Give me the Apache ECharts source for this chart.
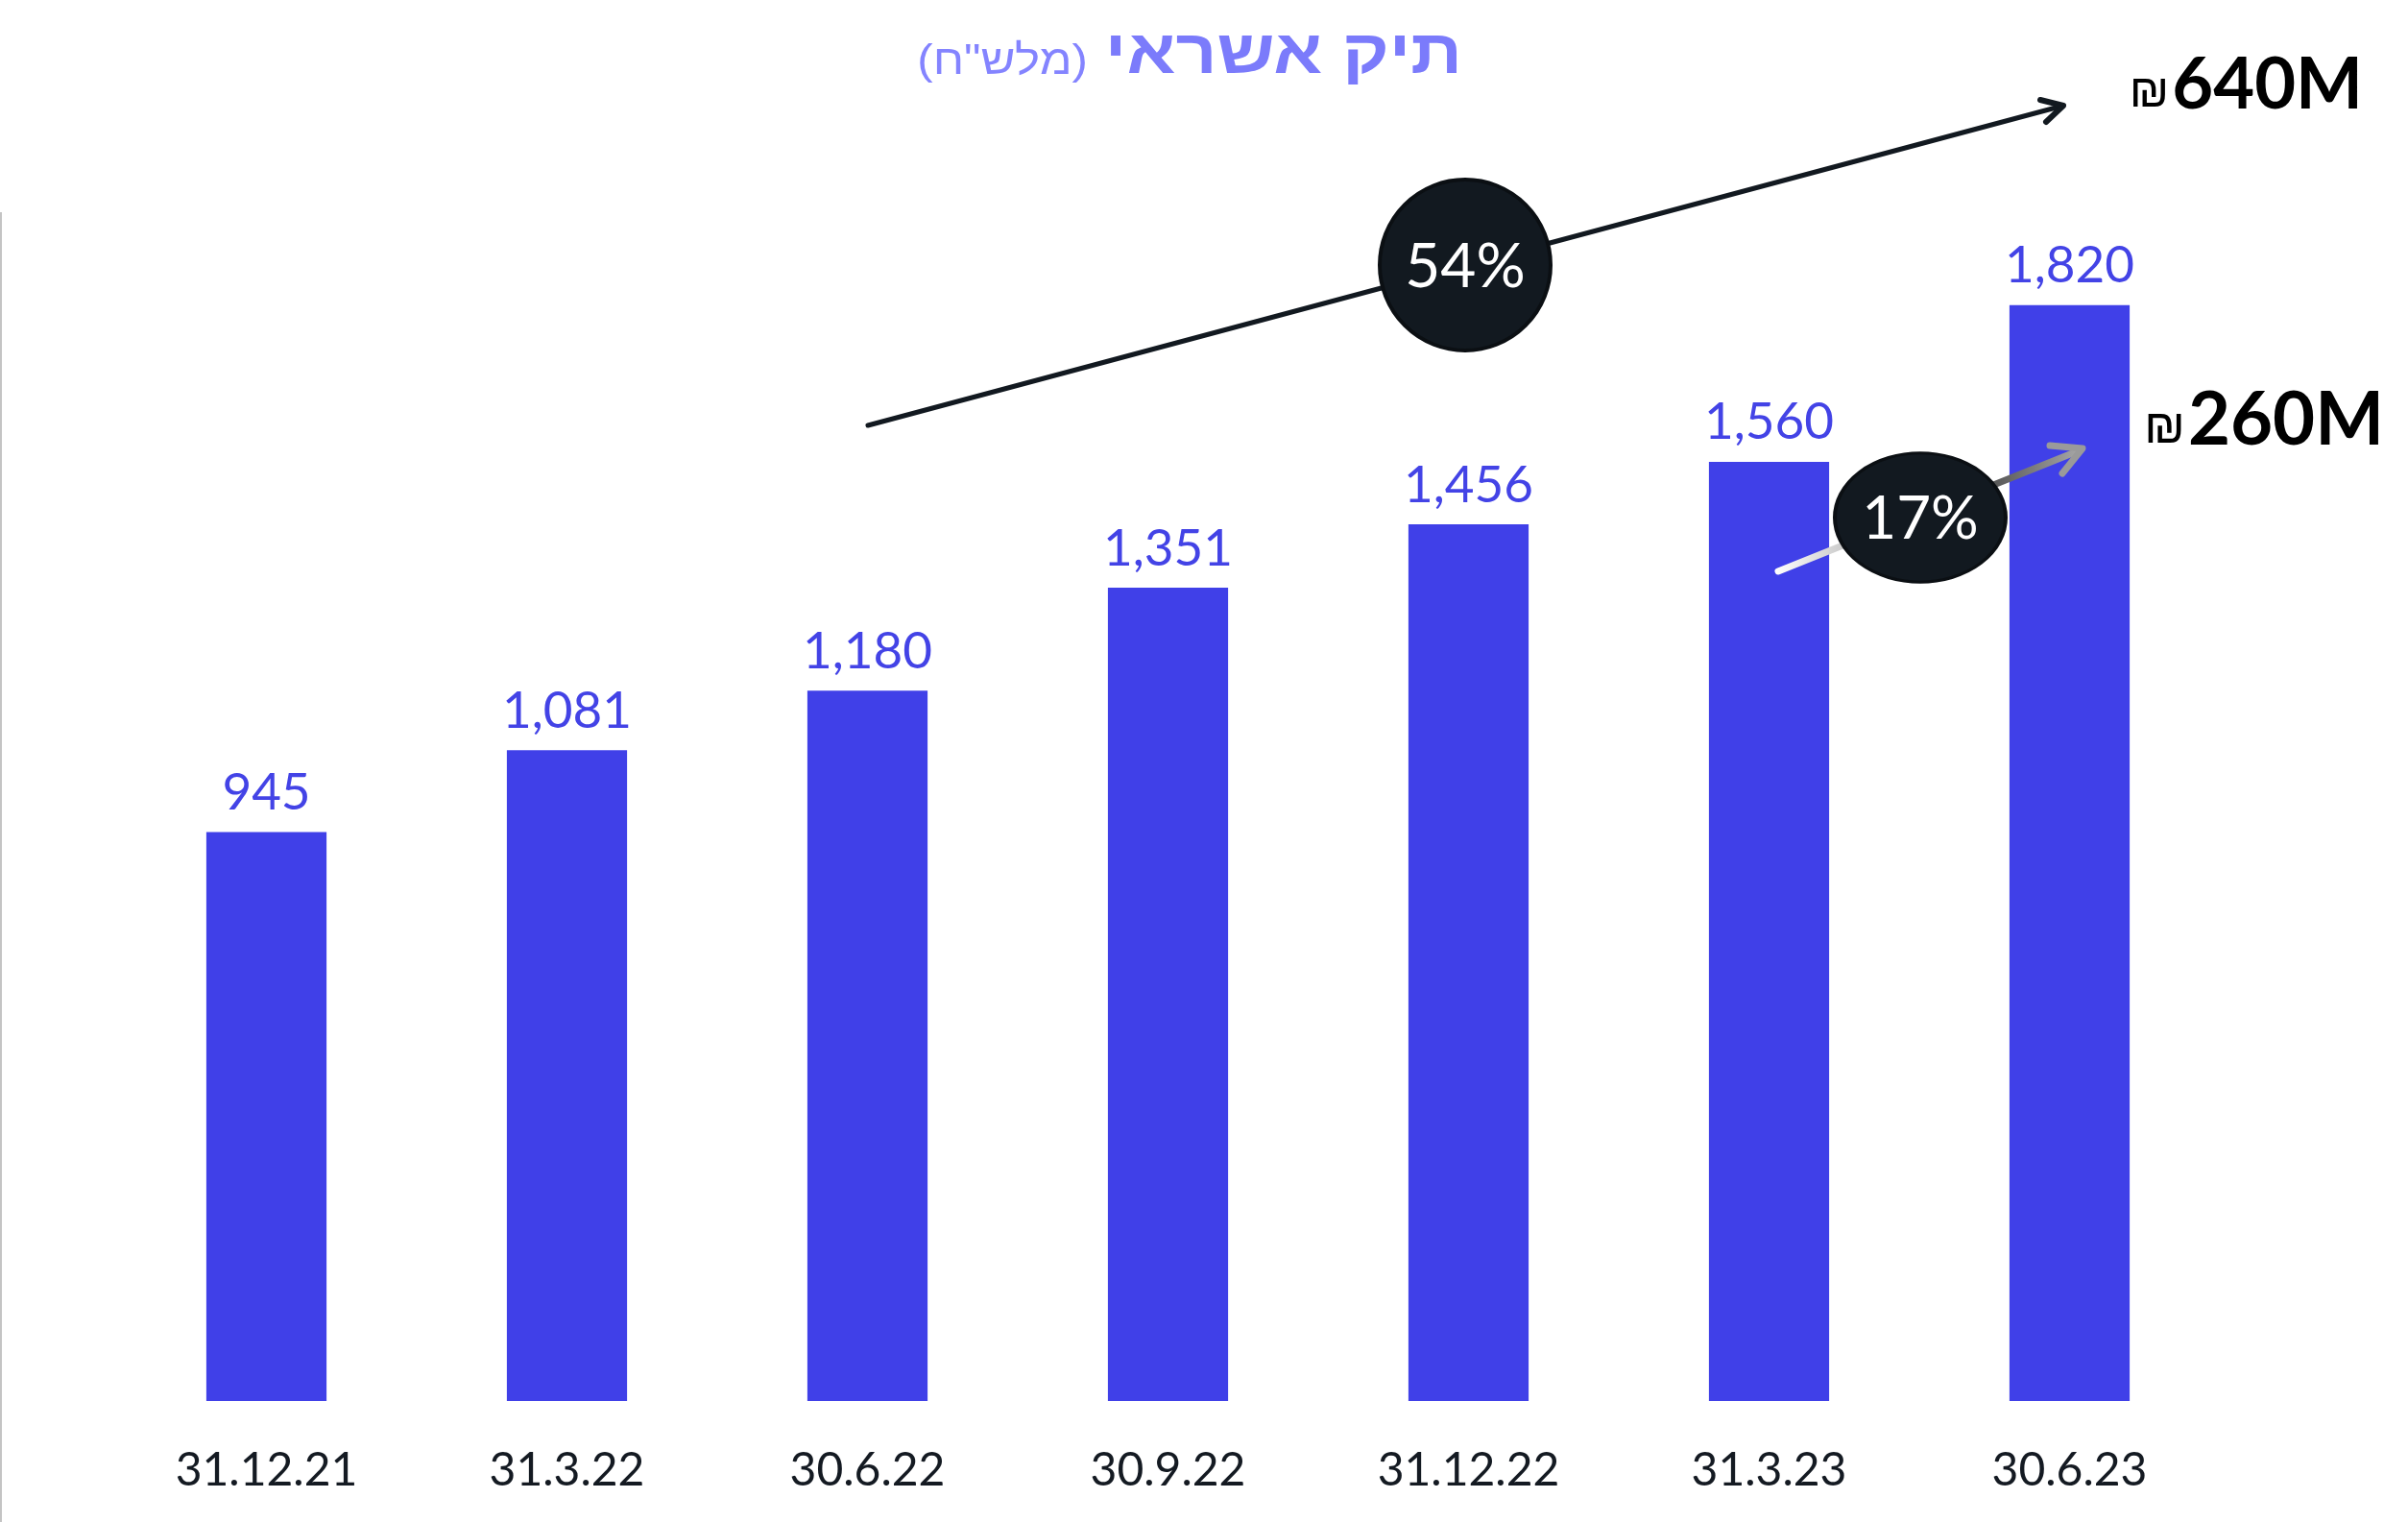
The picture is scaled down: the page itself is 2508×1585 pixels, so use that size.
<!DOCTYPE html>
<html>
<head>
<meta charset="utf-8">
<script src="https://cdn.jsdelivr.net/npm/echarts@6/dist/echarts.min.js"></script>
<style>
  html, body { margin: 0; padding: 0; background: #fff; }
  #main { width: 2508px; height: 1585px; }
</style>
</head>
<body>
<div id="main"></div>
<script>
  // data
  var dates = ['31.12.21', '31.3.22', '30.6.22', '30.9.22', '31.12.22', '31.3.23', '30.6.23']
  var portfolio = [945, 1081, 1180, 1351, 1456, 1560, 1820]
  var titleMain = 'תיק אשראי'
  var titleSub = '(מלש"ח)'
  var growthLong = '54%'
  var growthShort = '17%'
  var amountLong = '640M'
  var amountShort = '260M'

  var barColor = '#4040E8'
  var dark = '#121920'
  var font = 'Lato, "DejaVu Sans", sans-serif'

  var myChart = echarts.init(document.getElementById('main'))

  // amount label: thin shekel sign + bold number
  function amountText (x, y, value, size) {
    return {
      type: 'text', x: x, y: y,
      style: {
        text: '{c|₪}{n|' + value + '}',
        align: 'right', verticalAlign: 'middle',
        rich: {
          c: { fontFamily: '"Liberation Sans", sans-serif', fontSize: size * 0.66, fill: '#000', verticalAlign: 'bottom', padding: [0, 3, 4, 0] },
          n: { fontFamily: font, fontWeight: 'bold', fontSize: size, fill: '#000' }
        }
      }
    }
  }

  myChart.setOption({
    animation: false,
    grid: { left: 121, width: 2191, top: 205, bottom: 126 },
    xAxis: {
      type: 'category',
      data: dates,
      axisLine: { show: false },
      axisTick: { show: false },
      axisLabel: { color: '#141a22', fontSize: 48, fontFamily: font, margin: 49 }
    },
    yAxis: { type: 'value', min: 0, max: 2000, show: false },
    series: [{
      type: 'bar',
      data: portfolio,
      barWidth: '40%',
      itemStyle: { color: barColor },
      label: {
        show: true,
        position: 'top',
        distance: 14,
        color: '#4343E6',
        fontSize: 53,
        fontFamily: font,
        formatter: function (p) { return p.value.toLocaleString('en-US') }
      }
    }],
    graphic: [
      // left border line
      { type: 'line', shape: { x1: 1, y1: 221, x2: 1, y2: 1585 }, style: { stroke: '#c4c4c4', lineWidth: 2 } },
      // title
      { type: 'text', x: 1523, y: 58, scaleX: 1.15, style: { text: titleMain, fill: '#7B7BFB', font: 'bold 65px "Liberation Sans", Arial, sans-serif', align: 'right', verticalAlign: 'middle' } },
      { type: 'text', x: 1133, y: 65, scaleX: 1.12, style: { text: titleSub, fill: '#8484FF', font: '44px "Liberation Sans", Arial, sans-serif', align: 'right', verticalAlign: 'middle' } },
      // big arrow
      { type: 'line', z: 10, shape: { x1: 904, y1: 443, x2: 2149, y2: 110 }, style: { stroke: dark, lineWidth: 5, lineCap: 'round' } },
      { type: 'polyline', z: 10, shape: { points: [[2125, 104], [2149, 110], [2131, 127]] }, style: { stroke: dark, lineWidth: 6, lineCap: 'round', lineJoin: 'round', fill: null } },
      { type: 'circle', z: 11, shape: { cx: 1526, cy: 276, r: 89 }, style: { fill: dark, stroke: '#0b0f13', lineWidth: 4 } },
      { type: 'text', z: 12, x: 1526, y: 278, style: { text: growthLong, fill: '#fff', font: '64px ' + font, align: 'center', verticalAlign: 'middle' } },
      amountText(2461, 89, amountLong, 74),
      // small arrow
      {
        type: 'line', z: 10, shape: { x1: 1852, y1: 595, x2: 2166, y2: 469 },
        style: {
          lineWidth: 7, lineCap: 'round',
          stroke: new echarts.graphic.LinearGradient(0, 0, 1, 0, [
            { offset: 0, color: '#ffffff' },
            { offset: 0.5, color: '#8a8a8a' },
            { offset: 0.7, color: '#555' },
            { offset: 1, color: '#aaaaaa' }
          ])
        }
      },
      { type: 'polyline', z: 10, shape: { points: [[2135, 464], [2169, 467], [2148, 493]] }, style: { stroke: '#9a9a9a', lineWidth: 7, lineCap: 'round', lineJoin: 'round', fill: null } },
      { type: 'circle', z: 11, x: 2000, y: 539, scaleY: 68 / 90, shape: { cx: 0, cy: 0, r: 89 }, style: { fill: dark, stroke: '#0b0f13', lineWidth: 4 } },
      { type: 'text', z: 12, x: 2000, y: 541, style: { text: growthShort, fill: '#fff', font: '62px ' + font, align: 'center', verticalAlign: 'middle' } },
      amountText(2483, 438, amountShort, 76)
    ]
  })
</script>
</body>
</html>
